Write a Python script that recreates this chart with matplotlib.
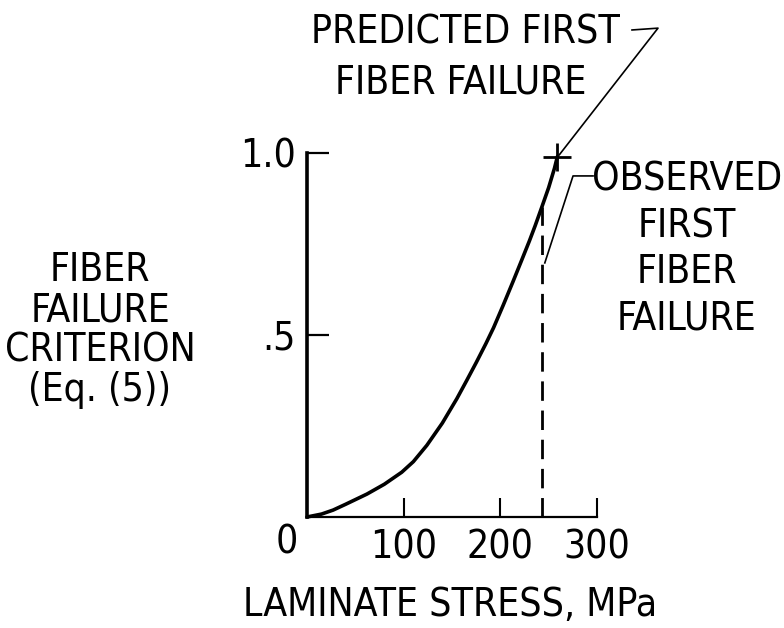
import matplotlib
matplotlib.use('Agg')
import matplotlib.pyplot as plt
from matplotlib import font_manager

# laminate stress (MPa) vs fiber failure criterion, Eq. (5)
stress = [0, 15, 27, 40, 62, 80, 98, 110, 124, 140, 155, 165, 175, 185, 193,
          203, 213, 222, 230, 236, 243, 250, 256, 259]
criterion = [0, 0.008, 0.019, 0.035, 0.063, 0.09, 0.123, 0.152, 0.197, 0.258, 0.325, 0.374,
             0.424, 0.476, 0.52, 0.582, 0.646, 0.705, 0.758, 0.80, 0.852, 0.905, 0.958, 0.99]

predicted_stress = 259
predicted_value = 0.99
observed_stress = 243
observed_value = 0.852

xticks = [100, 200, 300]
xtick_labels = ['100', '200', '300']
yticks = [0.5, 1.0]
ytick_labels = ['.5', '1.0']

# look for a narrow face, otherwise plain DejaVu a bit smaller
narrow = None
for f in font_manager.fontManager.ttflist:
    if 'Narrow' in f.name or 'Condensed' in f.name or 'condensed' in str(f.stretch):
        if 'Bold' not in f.fname and 'Oblique' not in f.fname and 'Italic' not in f.fname:
            narrow = f
            break
if narrow is not None:
    fprop = dict(fontproperties=font_manager.FontProperties(fname=narrow.fname))
    fs = 28
else:
    fprop = dict(family='DejaVu Sans')
    fs = 23

W, H = 784, 628
fig = plt.figure(figsize=(W / 100, H / 100), dpi=100)
ax = fig.add_axes([307 / W, (H - 517) / H, 290 / W, 364 / H])
ax.set_xlim(0, 300)
ax.set_ylim(0, 1.0)

for s in ['top', 'right']:
    ax.spines[s].set_visible(False)
ax.spines['left'].set_linewidth(2.6)
ax.spines['bottom'].set_linewidth(1.6)

ax.set_xticks(xticks)
ax.set_yticks(yticks)
ax.set_xticklabels(xtick_labels)
ax.set_yticklabels(ytick_labels)
for lab in ax.get_xticklabels() + ax.get_yticklabels():
    if narrow is not None:
        lab.set_fontproperties(font_manager.FontProperties(fname=narrow.fname))
    lab.set_fontsize(fs)
ax.tick_params(axis='x', direction='in', length=14, width=1.5, pad=8)
ax.tick_params(axis='y', direction='in', length=16, width=1.6, pad=8)
ax.text(-21, -0.07, '0', fontsize=fs, ha='center', va='center', clip_on=False, **fprop)

# curve, observed line and predicted point
ax.plot(stress, criterion, color='black', lw=2.6, solid_capstyle='round',
        solid_joinstyle='round', clip_on=False)
ax.plot([observed_stress, observed_stress], [0, observed_value], color='black', lw=2.0,
        dashes=(7, 3.5), clip_on=False)
ax.plot([predicted_stress], [predicted_value], marker='+', color='black', ms=20, mew=2.0, clip_on=False)

# leaders
ax.plot([336.2, 363.1, predicted_stress + 2], [1.338, 1.343, predicted_value + 0.005],
        color='black', lw=1.2, clip_on=False)
ax.plot([295.9, 275.2, observed_stress + 3], [0.937, 0.937, 0.698],
        color='black', lw=1.2, clip_on=False)

# annotation text (figure pixel positions)
def ptext(x, y, s):
    fig.text(x / W, 1 - y / H, s, fontsize=fs, ha='center', va='center', **fprop)

ptext(465, 32, 'PREDICTED FIRST')
ptext(461, 82, 'FIBER FAILURE')
ptext(687, 180, 'OBSERVED')
ptext(687, 226, 'FIRST')
ptext(687, 272, 'FIBER')
ptext(687, 318, 'FAILURE')

ptext(100, 270, 'FIBER')
ptext(100, 310, 'FAILURE')
ptext(100, 350, 'CRITERION')
ptext(100, 390, '(Eq. (5))')

ptext(450, 605, 'LAMINATE STRESS, MPa')

fig.savefig('out.png', dpi=100)
